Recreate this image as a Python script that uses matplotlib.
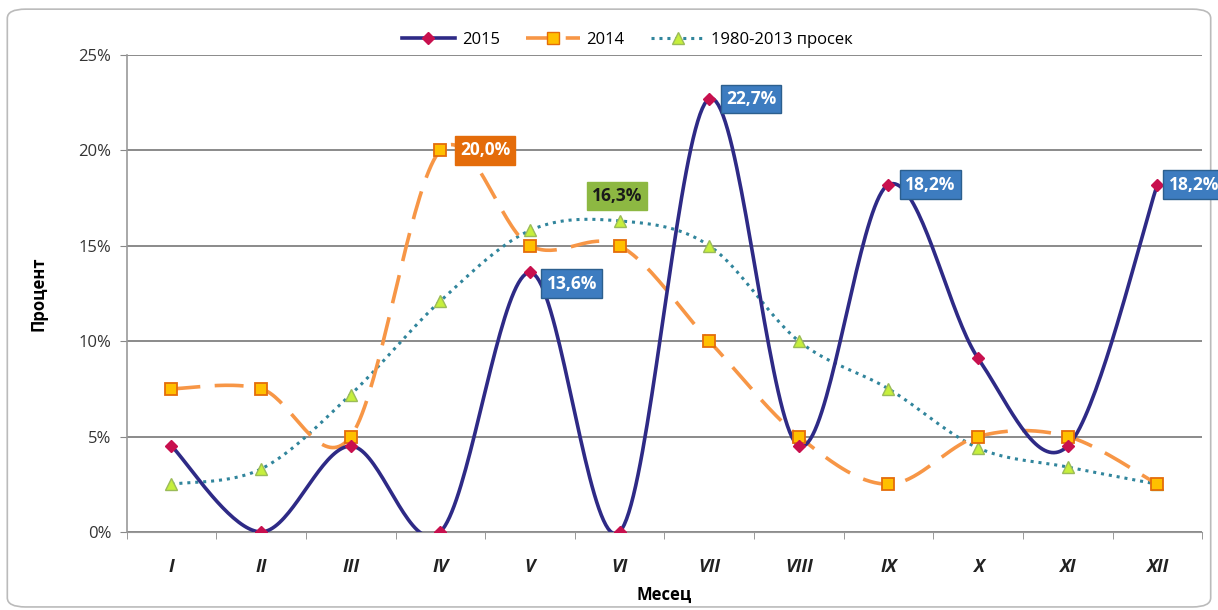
import numpy as np
import matplotlib.pyplot as plt
from matplotlib.patches import FancyBboxPatch
from matplotlib.lines import Line2D

months = ['I', 'II', 'III', 'IV', 'V', 'VI', 'VII', 'VIII', 'IX', 'X', 'XI', 'XII']
y2015 = [4.5, 0.0, 4.5, 0.0, 13.6, 0.0, 22.7, 4.5, 18.2, 9.1, 4.5, 18.2]
y2014 = [7.5, 7.5, 5.0, 20.0, 15.0, 15.0, 10.0, 5.0, 2.5, 5.0, 5.0, 2.5]
yavg = [2.5, 3.3, 7.2, 12.1, 15.8, 16.3, 15.0, 10.0, 7.5, 4.4, 3.4, 2.5]

plt.rcParams['font.family'] = ['Open Sans', 'DejaVu Sans']


def smooth(x, y, n=40):
    # Excel-like smoothing: cubic bezier with control points from neighbours
    x = np.asarray(x, float)
    y = np.asarray(y, float)
    px = np.concatenate([[x[0]], x, [x[-1]]])
    py = np.concatenate([[y[0]], y, [y[-1]]])
    t = np.linspace(0, 1, n)
    xs, ys = [], []
    for i in range(1, len(px) - 2):
        p0 = np.array([px[i], py[i]])
        p3 = np.array([px[i + 1], py[i + 1]])
        c1 = p0 + (p3 - np.array([px[i - 1], py[i - 1]])) / 6
        c2 = p3 - (np.array([px[i + 2], py[i + 2]]) - p0) / 6
        b = ((1 - t) ** 3)[:, None] * p0 + (3 * (1 - t) ** 2 * t)[:, None] * c1 \
            + (3 * (1 - t) * t ** 2)[:, None] * c2 + (t ** 3)[:, None] * p3
        xs.append(b[:, 0])
        ys.append(b[:, 1])
    return np.concatenate(xs), np.concatenate(ys)


fig = plt.figure(figsize=(12.18, 6.10), dpi=100)
fig.patches.append(FancyBboxPatch((0.006, 0.005), 0.988, 0.98, boxstyle='round,pad=0,rounding_size=0.015',
                                  transform=fig.transFigure, fc='white', ec='#BBBBBB', lw=1.2, zorder=-5))
ax = fig.add_axes([0.104, 0.128, 0.883, 0.782])
ax.patch.set_alpha(0)
x = np.arange(len(months))

sx, sy = smooth(x, yavg)
ax.plot(sx, sy, color='#31859C', lw=2.2, ls=(0, (1, 1.6)), zorder=3)
ax.plot(x, yavg, ls='none', marker='^', ms=8, mfc='#C6EF3C', mec='#9BBB59', zorder=5)

sx, sy = smooth(x, y2014)
ax.plot(sx, sy, color='#F79646', lw=2.6, ls=(0, (8, 4)), zorder=3)
ax.plot(x, y2014, ls='none', marker='s', ms=8, mfc='#FFC000', mec='#E46C0A', mew=1.3, zorder=5)

sx, sy = smooth(x, y2015)
ax.plot(sx, sy, color='#2E2A86', lw=2.6, zorder=4)
ax.plot(x, y2015, ls='none', marker='D', ms=6.5, mfc='#C8104E', mec='#C8104E', zorder=6)

# legend proxies
h = [Line2D([], [], color='#2E2A86', lw=2.6, marker='D', ms=6.5, mfc='#C8104E', mec='#C8104E'),
     Line2D([], [], color='#F79646', lw=2.6, ls=(0, (7, 4)), marker='s', ms=8, mfc='#FFC000', mec='#E46C0A'),
     Line2D([], [], color='#31859C', lw=2.2, ls=(0, (1, 1.6)), marker='^', ms=8, mfc='#C6EF3C', mec='#9BBB59')]
fig.legend(h, ['2015', '2014', '1980-2013 просек'], loc='center', bbox_to_anchor=(0.515, 0.935), ncol=3,
           frameon=False, fontsize=12, handlelength=3.2, columnspacing=1.6, handletextpad=0.4)


def label(i, v, dx, dy, fc, tc):
    ax.annotate(f'{v:.1f}%'.replace('.', ','), (i, v), xytext=(dx, dy), textcoords='offset points',
                ha='left', va='center', fontsize=12.5, fontweight='bold', color=tc, zorder=10,
                bbox=dict(boxstyle='square,pad=0.3', fc=fc, ec='#2C5F8E' if fc == '#3D7CC0' else fc, lw=1))


label(4, y2015[4], 12, -8, '#3D7CC0', 'white')
label(6, y2015[6], 12, 0, '#3D7CC0', 'white')
label(8, y2015[8], 12, 0, '#3D7CC0', 'white')
label(11, y2015[11], 8, 0, '#3D7CC0', 'white')
label(3, y2014[3], 14, 0, '#E46C0A', 'white')
label(5, yavg[5], -20, 18, '#8DB842', '#1A1A1A')

ax.set_xlim(-0.5, 11.5)
ax.set_ylim(0, 25)
ax.set_yticks([0, 5, 10, 15, 20, 25])
ax.set_yticklabels([f'{v}%' for v in [0, 5, 10, 15, 20, 25]], fontsize=12, color='#333333')
ax.set_xticks(x)
ax.set_xticklabels(months, fontsize=13, fontweight='bold', fontstyle='italic', color='#222222')
ax.set_xticks(np.arange(-0.5, 12, 1), minor=True)
ax.tick_params(axis='x', which='major', length=0, pad=19)
ax.tick_params(axis='x', which='minor', length=5, color='#888888')
ax.tick_params(axis='y', length=5, color='#888888', pad=6)
ax.grid(axis='y', color='#777777', lw=1.2)
ax.set_axisbelow(True)
for s in ['top', 'right']:
    ax.spines[s].set_visible(False)
ax.spines['left'].set_color('#999999')
ax.spines['bottom'].set_color('#999999')
ax.spines['left'].set_linewidth(1.2)
ax.set_xlabel('Месец', fontsize=12, fontweight='bold', labelpad=7)
ax.set_ylabel('Процент', fontsize=12, fontweight='bold', labelpad=22)

fig.savefig('out.png', dpi=100)
